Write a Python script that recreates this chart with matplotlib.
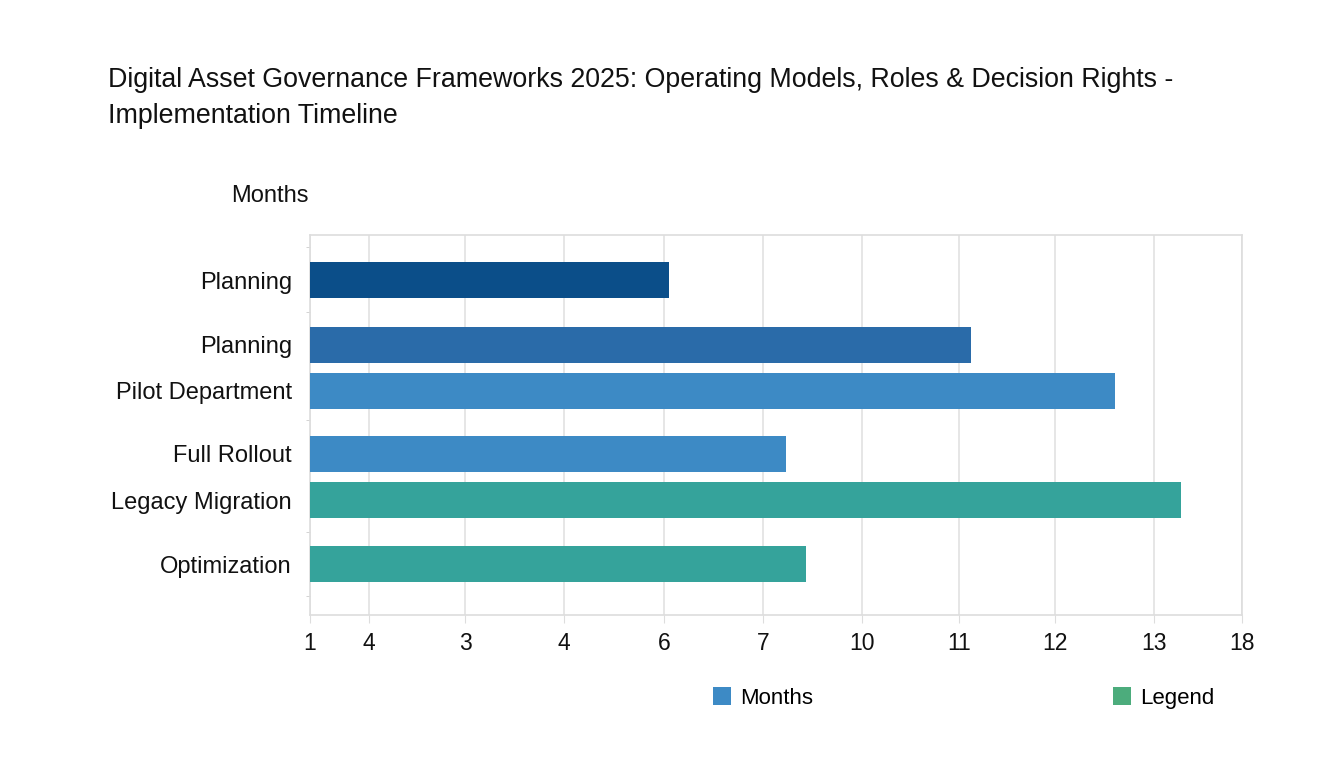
import matplotlib
matplotlib.use("Agg")
import matplotlib.pyplot as plt
from matplotlib.patches import Patch

plt.rcParams['font.family'] = ['Liberation Sans', 'DejaVu Sans']

# ---- data ----
categories = ["Planning", "Planning", "Pilot Department", "Full Rollout",
              "Legacy Migration", "Optimization"]
# bar end positions along the (irregular) month axis, in axis units
values = [3.59, 6.61, 8.05, 4.76, 8.71, 4.96]
bar_colors = ["#0b4e89", "#2a6ba9", "#3d8ac5", "#3d8ac5", "#35a39b", "#35a39b"]
tick_labels = ["1", "4", "3", "4", "6", "7", "10", "11", "12", "13", "18"]
tick_positions = [0, 0.59, 1.55, 2.54, 3.54, 4.53, 5.52, 6.49, 7.45, 8.44, 9.32]
legend_labels = ["Months", "Legend"]
legend_colors = ["#3d8ac5", "#4cac7c"]

# ---- layout ----
y_positions = [45, 110, 156, 219, 265, 329]
minor_y = [12, 77, 185, 297, 361]
bar_height = 36

fig = plt.figure(figsize=(13.44, 7.68), dpi=100)
ax = fig.add_axes([310/1344, 1 - 615/768, 932/1344, 380/768])

ax.barh(y_positions, values, height=bar_height, color=bar_colors, zorder=3)

ax.set_xlim(0, 9.32)
ax.set_ylim(380, 0)
ax.set_xticks(tick_positions)
ax.set_xticklabels(tick_labels, fontsize=16.5, color="#111111")
ax.set_yticks(y_positions)
ax.set_yticklabels(categories, fontsize=17, color="#111111")
ax.set_yticks(minor_y, minor=True)

ax.grid(axis='x', color="#e2e2e2", linewidth=1.2, zorder=0)
for s in ax.spines.values():
    s.set_color("#dddddd")
    s.set_linewidth(1.2)

ax.tick_params(axis='x', which='major', length=6, color="#dddddd", pad=6.5)
ax.tick_params(axis='y', which='major', length=0, pad=13)
ax.tick_params(axis='y', which='minor', length=3, color="#cccccc")

fig.text(108/1344, 1 - 80/768, "Digital Asset Governance Frameworks 2025: Operating Models, Roles & Decision Rights -",
         fontsize=19.3, va='center', ha='left', color="#111111")
fig.text(108/1344, 1 - 116/768, "Implementation Timeline",
         fontsize=19.3, va='center', ha='left', color="#111111")
fig.text(270/1344, 1 - 196/768, "Months", fontsize=17, va='center', ha='center', color="#111111")

handles = [Patch(facecolor=c, edgecolor='none') for c in legend_colors]
leg = fig.legend(handles, legend_labels, loc='center left',
                 bbox_to_anchor=(713/1344, 1 - 698/768), ncol=2, frameon=False,
                 fontsize=16, handlelength=0.81, handleheight=0.81,
                 handletextpad=0.4, columnspacing=13.5, borderpad=0, borderaxespad=0)

fig.savefig("out.png", dpi=100, facecolor="white")
